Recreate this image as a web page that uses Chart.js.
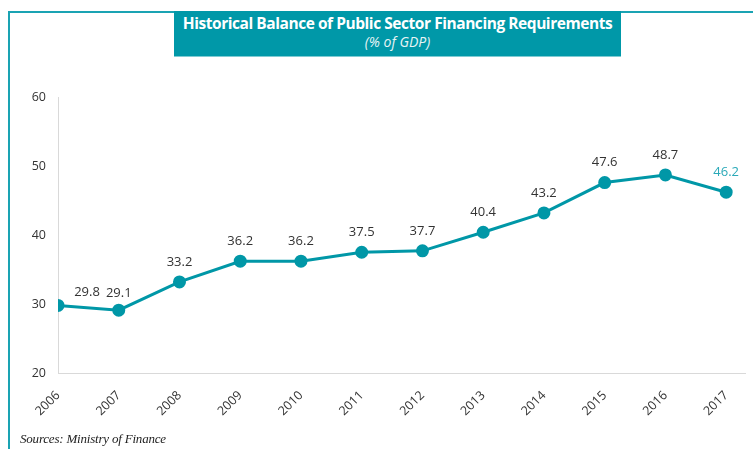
<!DOCTYPE html>
<html>
<head>
<meta charset="utf-8">
<script src="https://cdn.jsdelivr.net/npm/chart.js@4.4.1/dist/chart.umd.min.js"></script>
<style>
  html, body { margin: 0; padding: 0; background: #fff; }
  #wrap { position: relative; width: 753px; height: 449px; overflow: hidden; }
  #frame { position: absolute; left: 8px; top: 11px; width: 760px; height: 460px;
           border-top: 2px solid #1aa3b3; border-left: 2px solid #1aa3b3; box-sizing: border-box; }
  #titlebox { position: absolute; left: 174px; top: 11px; width: 447px; height: 45px;
              background: #0098a8; color: #fff; text-align: center;
              font-family: "Open Sans", sans-serif; border-bottom: 1px solid #7fcbd3; }
  #t1 { font-weight: bold; font-size: 15.5px; line-height: 18px; margin-top: 3px; letter-spacing: -0.45px; white-space: nowrap; }
  #t2 { font-style: italic; font-size: 14px; line-height: 20px; color: #e8f4f5; }
  #src { position: absolute; left: 20px; top: 431px; font-family: "Liberation Serif", serif;
         font-style: italic; font-size: 13px; color: #222; letter-spacing: -0.2px; }
  canvas { position: absolute; left: 0; top: 0; }
</style>
</head>
<body>
<div id="wrap">
  <div id="frame"></div>
  <div id="titlebox"><div id="t1">Historical Balance of Public Sector Financing Requirements</div><div id="t2">(% of GDP)</div></div>
  <canvas id="c" width="753" height="449"></canvas>
  <div id="src">Sources: Ministry of Finance</div>
</div>
<script>
const years = [2006, 2007, 2008, 2009, 2010, 2011, 2012, 2013, 2014, 2015, 2016, 2017];
const values = [29.8, 29.1, 33.2, 36.2, 36.2, 37.5, 37.7, 40.4, 43.2, 47.6, 48.7, 46.2];
const yTicks = [20, 30, 40, 50, 60];

const teal = '#0097a7';

const labelPlugin = {
  id: 'valueLabels',
  afterDatasetsDraw(chart) {
    const meta = chart.getDatasetMeta(0);
    const ctx = chart.ctx;
    ctx.save();
    ctx.font = '13px "Open Sans", sans-serif';
    ctx.textAlign = 'center';
    ctx.textBaseline = 'middle';
    meta.data.forEach((pt, i) => {
      let dx = 0, dy = -20;
      if (i === 0) { dx = 29; dy = -13; }
      if (i === 1) { dy = -17; }
      ctx.fillStyle = (i === values.length - 1) ? '#2aa9b8' : '#333333';
      ctx.fillText(values[i].toFixed(1), pt.x + dx, pt.y + dy);
    });
    ctx.restore();
  }
};

new Chart(document.getElementById('c'), {
  type: 'line',
  data: {
    datasets: [{
      data: years.map((y, i) => ({ x: y, y: values[i] })),
      borderColor: teal,
      backgroundColor: teal,
      borderWidth: 3,
      pointRadius: 5,
      pointBackgroundColor: teal,
      pointBorderColor: teal,
      tension: 0
    }]
  },
  options: {
    responsive: false,
    animation: false,
    layout: { padding: { top: 97, right: 7, left: 0, bottom: 0 } },
    plugins: { legend: { display: false }, tooltip: { enabled: false } },
    scales: {
      x: {
        type: 'linear',
        min: years[0],
        max: years[years.length - 1] + 0.31,
        afterBuildTicks(scale) {
          scale.ticks = years.map(v => ({ value: v }));
        },
        afterFit(scale) { scale.height = 76; },
        grid: { display: false, drawTicks: false },
        border: { color: '#d9d9d9', width: 1 },
        ticks: {
          autoSkip: false,
          minRotation: 45,
          maxRotation: 45,
          padding: 15,
          color: '#333333',
          font: { family: '"Open Sans", sans-serif', size: 12.5 },
          callback: v => String(v)
        }
      },
      y: {
        min: 20,
        max: 60,
        afterBuildTicks(scale) {
          scale.ticks = yTicks.map(v => ({ value: v }));
        },
        afterFit(scale) { scale.width = 58; },
        grid: { display: false, drawTicks: false },
        border: { color: '#d9d9d9', width: 1 },
        ticks: {
          padding: 12,
          color: '#333333',
          font: { family: '"Open Sans", sans-serif', size: 12.5 }
        }
      }
    }
  },
  plugins: [labelPlugin]
});
</script>
</body>
</html>
